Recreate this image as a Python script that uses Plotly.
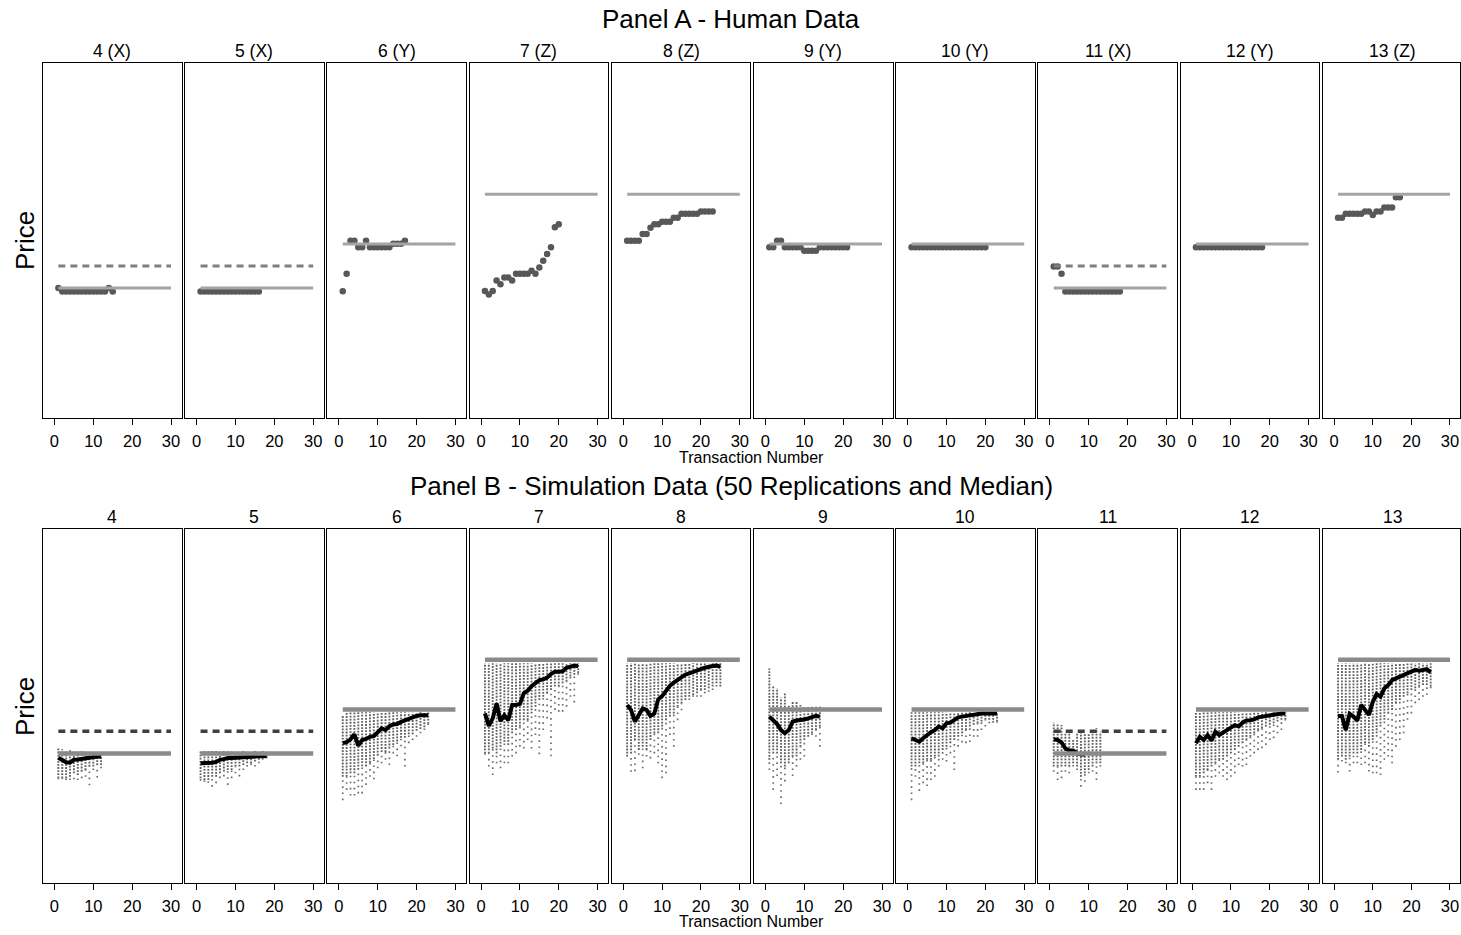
import plotly.graph_objects as go

# ---------------- data ----------------
sessions = [4, 5, 6, 7, 8, 9, 10, 11, 12, 13]
market_type = ["X", "X", "Y", "Z", "Z", "Y", "Y", "X", "Y", "Z"]
eq_price = {"X": 36.6, "Y": 49.0, "Z": 63.05}
x_alt_price = 42.85          # second (dashed) reference price in X markets
line_span = [1, 30]
x_ticks = [0, 10, 20, 30]

# Panel A - human transaction prices (transaction 1..n)
human_s4 = [36.6, 35.6, 35.6, 35.6, 35.6, 35.6, 35.6, 35.6, 35.6, 35.6, 35.6, 35.6, 35.6, 36.6, 35.6]
human_s5 = [35.6, 35.6, 35.6, 35.6, 35.6, 35.6, 35.6, 35.6, 35.6, 35.6, 35.6, 35.6, 35.6, 35.6, 35.6, 35.6]
human_s6 = [35.7, 40.6, 49.9, 49.9, 48.1, 48.1, 49.9, 48.1, 48.1, 48.1, 48.1, 48.1, 48.1, 49.1, 49.1, 49.1, 49.9]
human_s7 = [35.8, 34.8, 35.8, 38.7, 37.7, 39.6, 39.6, 38.7, 40.6, 40.6, 40.6, 40.6, 41.5, 40.6, 42.4, 44.3,
            46.2, 48.1, 53.7, 54.6]
human_s8 = [49.9, 49.9, 49.9, 49.9, 51.8, 51.8, 53.6, 54.6, 54.6, 55.3, 55.3, 55.3, 56.4, 56.4, 57.5, 57.5,
            57.5, 57.5, 57.5, 58.2, 58.2, 58.2, 58.2]
human_s9 = [48.1, 48.1, 49.9, 49.9, 48.1, 48.1, 48.1, 48.1, 48.1, 47.1, 47.1, 47.1, 47.1, 48.1, 48.1, 48.1,
            48.1, 48.1, 48.1, 48.1, 48.1]
human_s10 = [48.1, 48.1, 48.1, 48.1, 48.1, 48.1, 48.1, 48.1, 48.1, 48.1, 48.1, 48.1, 48.1, 48.1, 48.1, 48.1,
             48.1, 48.1, 48.1, 48.1]
human_s11 = [42.7, 42.7, 40.6, 35.6, 35.6, 35.6, 35.6, 35.6, 35.6, 35.6, 35.6, 35.6, 35.6, 35.6, 35.6, 35.6,
             35.6, 35.6]
human_s12 = [48.1, 48.1, 48.1, 48.1, 48.1, 48.1, 48.1, 48.1, 48.1, 48.1, 48.1, 48.1, 48.1, 48.1, 48.1, 48.1,
             48.1, 48.1]
human_s13 = [56.4, 56.4, 57.5, 57.5, 57.5, 57.5, 57.5, 58.2, 58.2, 57.2, 58.2, 58.2, 59.3, 59.3, 59.3, 62.2, 62.2]

# Panel B - simulation: median path and spread of the 50 replications per transaction
sim_median_s4 = [35.4, 34.7, 34.1, 34.0, 34.8, 34.9, 35.0, 35.2, 35.4, 35.6, 35.7, 35.7]
sim_top_s4 = [38.3, 37.8, 37.5, 37.5, 37.2, 37.2, 37.2, 37.2, 37.0, 37.0, 36.8, 36.8]
sim_dense_low_s4 = [29.6, 29.6, 29.6, 30.0, 31.0, 30.5, 31.5, 31.9, 32.9, 32.9, 33.3, 33.3]
sim_min_s4 = [29.3, 29.3, 29.1, 29.1, 29.3, 29.1, 29.6, 30.0, 27.6, 31.9, 29.8, 32.4]

sim_median_s5 = [33.8, 33.8, 33.8, 34.0, 34.2, 34.8, 35.0, 35.3, 35.3, 35.4, 35.5, 35.5, 35.6, 35.7, 35.7, 35.8,
                 35.8, 35.9]
sim_top_s5 = [37.3, 37.3, 37.3, 37.3, 37.3, 37.3, 37.3, 37.3, 37.3, 37.3, 37.3, 37.3, 37.3, 37.3, 37.3, 37.3,
              37.3, 37.3]
sim_dense_low_s5 = [29.6, 29.1, 29.1, 30.0, 30.0, 31.0, 31.5, 31.9, 31.9, 32.9, 32.9, 33.3, 33.8, 33.8, 34.3,
                    34.8, 35.2, 35.5]
sim_min_s5 = [28.9, 28.6, 28.3, 27.2, 28.2, 29.6, 30.1, 27.7, 29.6, 31.0, 30.1, 31.9, 32.9, 33.3, 32.9, 33.8,
              34.8, 35.2]

sim_median_s6 = [39.5, 39.8, 40.6, 42.0, 38.8, 40.4, 40.7, 41.3, 41.5, 42.6, 43.7, 43.2, 44.3, 44.8, 44.9, 45.5,
                 46.0, 46.4, 46.8, 47.2, 47.4, 47.4, 47.4]
sim_top_s6 = [47.5, 48.0, 48.2, 48.2, 48.2, 48.2, 48.2, 48.2, 48.2, 48.2, 48.2, 48.2, 48.2, 48.2, 48.2, 48.2,
              48.2, 48.2, 48.2, 48.2, 48.2, 48.2, 48.2]
sim_dense_low_s6 = [30.0, 30.0, 31.0, 31.0, 32.0, 33.0, 33.0, 34.0, 35.0, 36.0, 37.0, 37.0, 38.0, 39.0, 40.0,
                    41.0, 41.0, 42.0, 42.0, 43.0, 43.5, 44.0, 45.0]
sim_min_s6 = [23.4, 26.3, 24.7, 24.7, 25.3, 25.3, 27.7, 30.0, 29.3, 32.4, 33.8, 34.8, 33.3, 36.6, 35.8, 38.6,
              32.9, 39.5, 40.4, 41.3, 42.3, 43.2, 44.6]

sim_median_s7 = [47.9, 44.4, 46.5, 50.7, 45.7, 47.4, 46.0, 50.3, 50.3, 50.6, 53.6, 54.3, 55.6, 56.4, 57.3, 57.5,
                 58.0, 59.0, 59.7, 59.7, 59.8, 60.8, 61.1, 61.4, 61.3]
sim_top_s7 = [62.1, 62.1, 62.1, 62.1, 62.1, 62.1, 62.1, 62.1, 62.1, 62.1, 62.1, 62.1, 62.1, 62.1, 62.1, 62.1,
              62.1, 62.1, 62.1, 62.1, 62.1, 62.1, 62.1, 62.1, 62.1]
sim_dense_low_s7 = [36.6, 36.6, 38.0, 36.6, 38.5, 39.9, 39.0, 42.3, 43.2, 44.2, 46.0, 46.0, 47.9, 49.8, 51.7,
                    52.6, 53.6, 54.5, 55.5, 55.5, 56.4, 56.9, 58.3, 58.8, 59.3]
sim_min_s7 = [36.2, 32.9, 30.5, 33.8, 32.4, 33.8, 33.8, 35.7, 36.6, 38.5, 38.0, 40.4, 38.0, 41.8, 36.4, 43.2,
              46.5, 35.8, 48.9, 48.4, 48.4, 49.8, 52.6, 51.0, 58.8]

sim_median_s8 = [50.3, 48.9, 45.6, 47.4, 49.3, 48.9, 47.2, 47.9, 51.9, 52.8, 54.5, 55.7, 56.6, 57.3, 58.1, 58.9,
                 59.2, 59.7, 60.1, 60.4, 60.8, 61.1, 61.3, 61.4, 61.1]
sim_top_s8 = [62.1, 62.1, 62.1, 62.1, 62.1, 62.1, 62.1, 62.1, 62.1, 62.1, 62.1, 62.1, 62.1, 62.1, 62.1, 62.1,
              62.1, 62.1, 62.1, 62.1, 62.1, 62.1, 62.1, 62.1, 62.1]
sim_dense_low_s8 = [35.7, 36.6, 40.4, 37.6, 38.5, 37.6, 40.4, 42.3, 42.3, 44.2, 46.0, 47.0, 47.9, 49.8, 50.7,
                    51.7, 52.6, 53.1, 53.6, 54.5, 54.5, 55.0, 55.5, 56.4, 55.5]
sim_min_s8 = [35.7, 31.4, 31.6, 36.2, 32.4, 35.7, 35.2, 36.6, 33.8, 29.6, 31.0, 41.8, 38.5, 46.0, 48.8, 51.7,
              51.7, 52.6, 52.6, 52.6, 53.6, 54.0, 54.5, 55.5, 55.5]

sim_median_s9 = [47.0, 46.0, 44.9, 43.2, 42.3, 43.2, 45.6, 45.9, 46.0, 46.2, 46.5, 46.8, 47.2, 47.0]
sim_top_s9 = [60.6, 55.5, 55.1, 52.3, 53.6, 50.3, 51.2, 51.2, 50.3, 49.8, 49.8, 49.8, 49.8, 49.8]
sim_dense_low_s9 = [34.8, 36.6, 36.6, 33.8, 32.9, 33.8, 35.7, 35.7, 38.5, 40.4, 41.3, 42.3, 43.2, 44.2]
sim_min_s9 = [31.9, 26.3, 30.2, 22.3, 28.7, 33.8, 30.2, 32.9, 34.8, 35.7, 41.3, 41.8, 41.3, 38.5]

sim_median_s10 = [40.9, 40.4, 39.9, 40.9, 41.8, 42.6, 43.2, 44.2, 43.7, 45.1, 45.3, 46.0, 46.8, 47.0, 47.2, 47.4,
                  47.6, 47.7, 47.9, 47.9, 47.9, 47.9, 47.9]
sim_top_s10 = [48.2, 48.2, 48.2, 48.2, 48.2, 48.2, 48.2, 48.2, 48.2, 48.2, 48.2, 48.2, 48.2, 48.2, 48.2, 48.2,
               48.2, 48.2, 48.2, 48.2, 48.2, 48.2, 48.2]
sim_dense_low_s10 = [32.9, 32.9, 33.8, 33.8, 34.8, 34.8, 35.7, 35.7, 37.6, 38.5, 39.5, 40.4, 41.3, 42.3, 43.2,
                     44.2, 44.7, 45.1, 45.6, 46.1, 46.1, 46.1, 45.6]
sim_min_s10 = [23.4, 30.0, 26.0, 28.2, 27.4, 29.1, 30.0, 32.9, 34.8, 34.3, 36.6, 31.9, 38.5, 39.7, 39.5, 39.8,
               41.3, 41.3, 43.2, 44.2, 45.1, 45.3, 45.3]

sim_median_s11 = [40.6, 40.4, 39.7, 38.0, 37.4, 37.4, 36.6, 36.3, 36.3]
sim_top_s11 = [45.3, 44.8, 44.6, 42.3, 42.3, 40.4, 42.3, 43.2, 42.3, 42.3, 43.2, 43.7, 42.7]
sim_dense_low_s11 = [32.9, 32.9, 32.9, 32.9, 32.9, 33.8, 32.9, 30.0, 31.0, 31.9, 32.9, 33.8, 33.8]
sim_min_s11 = [31.4, 29.1, 29.6, 31.4, 31.0, 32.9, 31.9, 27.2, 28.6, 31.0, 31.4, 29.1, 32.9]

sim_median_s12 = [39.5, 41.3, 40.4, 41.8, 40.2, 42.7, 41.8, 42.6, 43.4, 43.9, 44.6, 44.2, 45.3, 45.9, 46.0, 46.2,
                  46.8, 47.0, 47.2, 47.3, 47.4, 47.6, 47.9, 47.9]
sim_top_s12 = [48.2, 48.2, 48.2, 48.2, 48.2, 48.2, 48.2, 48.2, 48.2, 48.2, 48.2, 48.2, 48.2, 48.2, 48.2, 48.2,
               48.2, 48.2, 48.2, 48.2, 48.2, 48.2, 48.2, 48.2]
sim_dense_low_s12 = [30.0, 30.0, 31.0, 31.9, 32.9, 33.8, 34.8, 34.8, 35.7, 36.6, 37.6, 38.5, 39.5, 40.4, 41.3,
                     42.3, 43.2, 43.7, 44.2, 44.7, 45.1, 45.6, 46.1, 46.1]
sim_min_s12 = [26.3, 26.3, 26.3, 28.2, 26.3, 30.0, 31.0, 30.0, 29.1, 30.0, 31.0, 33.3, 32.9, 33.3, 35.7, 36.6,
               37.6, 38.1, 39.0, 40.4, 40.9, 42.3, 43.2, 45.9]

sim_median_s13 = [47.2, 47.2, 43.2, 47.8, 47.0, 45.9, 50.3, 48.9, 47.5, 51.2, 53.4, 52.6, 55.0, 55.9, 57.3, 57.8,
                  58.3, 59.0, 59.2, 60.0, 60.2, 60.0, 60.2, 60.4, 59.5]
sim_top_s13 = [62.1, 62.1, 62.1, 62.1, 62.1, 62.1, 62.1, 62.1, 62.1, 62.1, 62.1, 62.1, 62.1, 62.1, 62.1, 62.1,
               62.1, 62.1, 62.1, 62.1, 62.1, 62.1, 62.1, 62.1, 62.1]
sim_dense_low_s13 = [34.8, 35.7, 34.8, 35.7, 36.6, 36.6, 37.6, 39.5, 38.5, 40.4, 42.3, 44.2, 46.1, 47.9, 48.9,
                     50.8, 51.7, 52.6, 53.6, 54.5, 55.0, 55.5, 55.9, 55.9, 55.5]
sim_min_s13 = [31.2, 34.3, 33.8, 31.5, 33.8, 33.8, 33.3, 33.8, 31.5, 31.0, 31.0, 30.5, 34.8, 35.7, 33.8, 38.5,
               40.4, 42.3, 46.1, 47.9, 50.8, 51.7, 52.6, 53.1, 55.0]

human_prices = [human_s4, human_s5, human_s6, human_s7, human_s8, human_s9, human_s10, human_s11, human_s12,
                human_s13]
sim_median = [sim_median_s4, sim_median_s5, sim_median_s6, sim_median_s7, sim_median_s8, sim_median_s9,
              sim_median_s10, sim_median_s11, sim_median_s12, sim_median_s13]
sim_top = [sim_top_s4, sim_top_s5, sim_top_s6, sim_top_s7, sim_top_s8, sim_top_s9, sim_top_s10, sim_top_s11,
           sim_top_s12, sim_top_s13]
sim_dense_low = [sim_dense_low_s4, sim_dense_low_s5, sim_dense_low_s6, sim_dense_low_s7, sim_dense_low_s8,
                 sim_dense_low_s9, sim_dense_low_s10, sim_dense_low_s11, sim_dense_low_s12, sim_dense_low_s13]
sim_min = [sim_min_s4, sim_min_s5, sim_min_s6, sim_min_s7, sim_min_s8, sim_min_s9, sim_min_s10, sim_min_s11,
           sim_min_s12, sim_min_s13]

# ---------------- layout helpers ----------------
W, H = 1461, 935
FONT = "Liberation Sans, Arial, sans-serif"


def px_x(p):
    return p / W


def px_y(p):
    return 1 - p / H


panel_left = [43 + 142.2 * i for i in range(10)]
panel_w = 138.5
rows = {"A": (63, 418), "B": (529, 883)}

fig = go.Figure()
layout = {}


def columns(xs, lows, highs):
    cx, cy = [], []
    for x, lo, hi in zip(xs, lows, highs):
        cx += [x, x, None]
        cy += [lo, hi, None]
    return cx, cy


ax = 0
for r, row in enumerate(["A", "B"]):
    top, bot = rows[row]
    for i, s in enumerate(sessions):
        ax += 1
        xa = "x" if ax == 1 else f"x{ax}"
        ya = "y" if ax == 1 else f"y{ax}"
        left = panel_left[i]
        right = min(left + panel_w, W - 0.6)
        layout["xaxis" if ax == 1 else f"xaxis{ax}"] = dict(
            domain=[px_x(left), px_x(right)], anchor=ya, range=[-2.95, 32.7],
            tickvals=x_ticks, ticks="outside", ticklen=6, tickwidth=1, tickcolor="black",
            showline=True, mirror=True, linecolor="black", linewidth=1.2, showgrid=False, zeroline=False,
            tickfont=dict(family=FONT, size=16.5, color="black"), ticklabelstandoff=2,
        )
        layout["yaxis" if ax == 1 else f"yaxis{ax}"] = dict(
            domain=[px_y(bot), px_y(top)], anchor=xa, range=[0, 100],
            showticklabels=False, ticks="", showline=True, mirror=True, linecolor="black",
            linewidth=1.2, showgrid=False, zeroline=False,
        )
        mt = market_type[i]
        if row == "A":
            ys = human_prices[i]
            fig.add_trace(go.Scatter(
                x=list(range(1, len(ys) + 1)), y=ys, mode="markers", xaxis=xa, yaxis=ya,
                marker=dict(size=6.5, color="#585858"), showlegend=False, hoverinfo="skip"))
            fig.add_trace(go.Scatter(
                x=line_span, y=[eq_price[mt]] * 2, mode="lines", xaxis=xa, yaxis=ya,
                line=dict(color="#a4a4a4", width=3), showlegend=False, hoverinfo="skip"))
            if mt == "X":
                fig.add_trace(go.Scatter(
                    x=line_span, y=[x_alt_price] * 2, mode="lines", xaxis=xa, yaxis=ya,
                    line=dict(color="#7f7f7f", width=3, dash="7px,5px"), showlegend=False, hoverinfo="skip"))
            title = f"{s} ({mt})"
        else:
            n = len(sim_top[i])
            xs = list(range(1, n + 1))
            tx, ty = columns(xs, sim_min[i], sim_dense_low[i])
            fig.add_trace(go.Scatter(
                x=tx, y=ty, mode="lines", xaxis=xa, yaxis=ya, connectgaps=False,
                line=dict(color="#6a6a6a", width=1.7, dash="1.6px,4.5px"), showlegend=False, hoverinfo="skip"))
            dx, dy = columns(xs, sim_dense_low[i], sim_top[i])
            fig.add_trace(go.Scatter(
                x=dx, y=dy, mode="lines", xaxis=xa, yaxis=ya, connectgaps=False,
                line=dict(color="#626262", width=1.9, dash="1.8px,1.3px"), showlegend=False, hoverinfo="skip"))
            med = sim_median[i]
            fig.add_trace(go.Scatter(
                x=list(range(1, len(med) + 1)), y=med, mode="lines", xaxis=xa, yaxis=ya,
                line=dict(color="black", width=4), showlegend=False, hoverinfo="skip"))
            fig.add_trace(go.Scatter(
                x=line_span, y=[eq_price[mt]] * 2, mode="lines", xaxis=xa, yaxis=ya,
                line=dict(color="#8a8a8a", width=4.5), showlegend=False, hoverinfo="skip"))
            if mt == "X":
                fig.add_trace(go.Scatter(
                    x=line_span, y=[x_alt_price] * 2, mode="lines", xaxis=xa, yaxis=ya,
                    line=dict(color="#404040", width=3.5, dash="7px,5px"), showlegend=False, hoverinfo="skip"))
            title = f"{s}"
        layout.setdefault("annotations", []).append(dict(
            text=title, x=px_x(left + panel_w / 2), y=px_y(top - 12), xref="paper", yref="paper",
            showarrow=False, xanchor="center", yanchor="middle",
            font=dict(family=FONT, size=17.5, color="black")))

ann = layout["annotations"]
for txt, py in [("Panel A - Human Data", 19), ("Panel B - Simulation Data (50 Replications and Median)", 486)]:
    ann.append(dict(text=txt, x=px_x(731), y=px_y(py), xref="paper", yref="paper", showarrow=False,
                    xanchor="center", yanchor="middle", font=dict(family=FONT, size=26, color="black")))
for py in [457, 921]:
    ann.append(dict(text="Transaction Number", x=px_x(751), y=px_y(py), xref="paper", yref="paper",
                    showarrow=False, xanchor="center", yanchor="middle",
                    font=dict(family=FONT, size=16, color="black")))
for py in [241, 707]:
    ann.append(dict(text="Price", x=px_x(25), y=px_y(py), xref="paper", yref="paper", showarrow=False,
                    xanchor="center", yanchor="middle", textangle=-90,
                    font=dict(family=FONT, size=26, color="black")))

fig.update_layout(
    width=W, height=H, margin=dict(l=0, r=0, t=0, b=0), paper_bgcolor="white", plot_bgcolor="white",
    font=dict(family=FONT, color="black"), showlegend=False, **layout)

fig.write_html("out.html", config={"displayModeBar": False},
               post_script="document.body.style.margin='0';document.body.style.overflow='hidden';")
